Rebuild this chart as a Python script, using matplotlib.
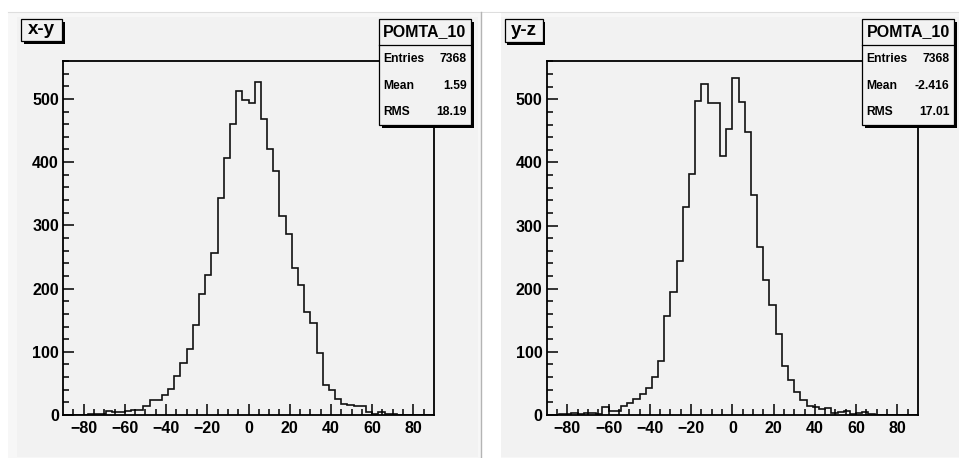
import numpy as np
import matplotlib
matplotlib.use("Agg")
import matplotlib.pyplot as plt
from matplotlib.patches import Rectangle
from matplotlib.lines import Line2D

plt.rcParams['font.family'] = ['Liberation Sans', 'DejaVu Sans']
plt.rcParams['font.weight'] = 'bold'

# 60 bins of width 3 over [-90, 90]
bin_edges = np.arange(-90, 91, 3)

counts_xy = [
    0, 0, 0, 0, 1, 1, 2, 6, 4, 4,
    7, 8, 8, 14, 23, 23, 31, 41, 61, 83,
    104, 142, 192, 222, 257, 343, 406, 460, 512, 498,
    493, 526, 469, 421, 386, 315, 287, 233, 205, 163,
    146, 98, 47, 40, 25, 18, 16, 14, 15, 5,
    2, 4, 2, 1, 0, 0, 0, 0, 0, 0,
]
counts_yz = [
    0, 0, 1, 1, 3, 1, 3, 3, 1, 12,
    7, 7, 14, 19, 26, 33, 43, 60, 85, 157,
    195, 244, 330, 382, 497, 525, 494, 494, 410, 453,
    534, 496, 449, 348, 266, 214, 174, 128, 78, 56,
    36, 24, 14, 13, 10, 11, 3, 4, 6, 1,
    3, 4, 2, 0, 0, 0, 0, 0, 0, 0,
]

panel_titles = ["x-y", "y-z"]
hist_name = "POMTA_10"
stat_labels = ["Entries", "Mean", "RMS"]
stats_xy = ["7368", "1.59", "18.19"]
stats_yz = ["7368", "-2.416", "17.01"]

x_major = np.arange(-80, 81, 20)
x_minor = np.arange(-85, 86, 5)
y_major = np.arange(0, 501, 100)
y_minor = np.arange(0, 561, 20)

W, H = 959, 458
fig = plt.figure(figsize=(W / 100, H / 100), dpi=100)
fig.patch.set_facecolor("white")

PAD = "#f2f2f2"


def rect_fig(x0, y0, x1, y1):
    return [x0 / W, 1 - y1 / H, (x1 - x0) / W, (y1 - y0) / H]


def add_rect(x0, y0, x1, y1, **kw):
    r = Rectangle((x0 / W, 1 - y1 / H), (x1 - x0) / W, (y1 - y0) / H,
                  transform=fig.transFigure, **kw)
    fig.patches.append(r)
    return r


def add_line(xs, ys, **kw):
    fig.lines.append(Line2D([x / W for x in xs], [1 - y / H for y in ys],
                            transform=fig.transFigure, **kw))


# canvas and pads
add_rect(8, 12, 959, 458, facecolor="#f7f7f7", edgecolor="none", zorder=0)
add_line([8, 959], [12, 12], color="#dedede", lw=0.8, zorder=0.5)
add_rect(17, 17, 478, 457, facecolor=PAD, edgecolor="none", zorder=0.6)
add_rect(482, 13, 501, 458, facecolor="white", edgecolor="none", zorder=0.6)
add_line([480.5, 480.5], [12, 458], color="#b4b4b4", lw=1.0, zorder=0.7)
add_rect(501, 17, 959, 457, facecolor=PAD, edgecolor="none", zorder=0.6)

panels = [
    dict(frame=(63, 61, 434, 415), counts=counts_xy, title=panel_titles[0],
         tbox=(21, 19, 62, 41), sbox=(379, 19, 471, 125), stats=stats_xy),
    dict(frame=(546.7, 61, 918, 415), counts=counts_yz, title=panel_titles[1],
         tbox=(505, 19, 543, 42), sbox=(862, 19, 954, 125), stats=stats_yz),
]

for p in panels:
    ax = fig.add_axes(rect_fig(*p["frame"]))
    ax.set_zorder(2)
    ax.set_facecolor("none")
    ax.stairs(p["counts"], bin_edges, color="#111111", lw=1.2)
    ax.set_xlim(-90, 90)
    ax.set_ylim(0, max(p["counts"]) * 1.05)
    ax.set_xticks(x_major)
    ax.set_xticks(x_minor, minor=True)
    ax.set_yticks(y_major)
    ax.set_yticks([v for v in y_minor if v not in y_major], minor=True)
    ax.tick_params(which="both", direction="in", colors="black",
                   labelsize=11.5, width=1.1)
    ax.tick_params(which="major", length=8)
    ax.tick_params(which="minor", length=4)
    ax.tick_params(axis="x", pad=4)
    ax.tick_params(axis="y", pad=3)
    for lab in ax.get_xticklabels() + ax.get_yticklabels():
        lab.set_fontweight("bold")
    for sp in ax.spines.values():
        sp.set_linewidth(1.3)
        sp.set_color("black")

    # title box with drop shadow
    x0, y0, x1, y1 = p["tbox"]
    add_rect(x0 + 2.5, y0 + 2.5, x1 + 2.5, y1 + 2.5, facecolor="black",
             edgecolor="none", zorder=5)
    add_rect(x0, y0, x1, y1, facecolor=PAD, edgecolor="black", lw=0.9, zorder=6)
    fig.text((x0 + x1) / 2 / W, 1 - (y0 + y1) / 2 / H, p["title"],
             ha="center", va="center", fontsize=13.5, fontweight="bold", zorder=7)

    # statistics box with drop shadow
    x0, y0, x1, y1 = p["sbox"]
    add_rect(x0 + 3, y0 + 3, x1 + 3, y1 + 3, facecolor="black",
             edgecolor="none", zorder=5)
    add_rect(x0, y0, x1, y1, facecolor=PAD, edgecolor="black", lw=0.9, zorder=6)
    add_line([x0, x1], [y0 + 26, y0 + 26], color="black", lw=0.9, zorder=7)
    fig.text((x0 + x1) / 2 / W, 1 - (y0 + 13) / H, hist_name,
             ha="center", va="center", fontsize=11.5, fontweight="bold", zorder=8)
    row_y = [y0 + 40.5, y0 + 67, y0 + 93]
    for lab, val, ry in zip(stat_labels, p["stats"], row_y):
        fig.text((x0 + 4) / W, 1 - ry / H, lab, ha="left", va="center",
                 fontsize=8.7, fontweight="bold", zorder=8)
        fig.text((x1 - 4.5) / W, 1 - ry / H, val, ha="right", va="center",
                 fontsize=8.7, fontweight="bold", zorder=8)

fig.savefig("out.png", dpi=100)
